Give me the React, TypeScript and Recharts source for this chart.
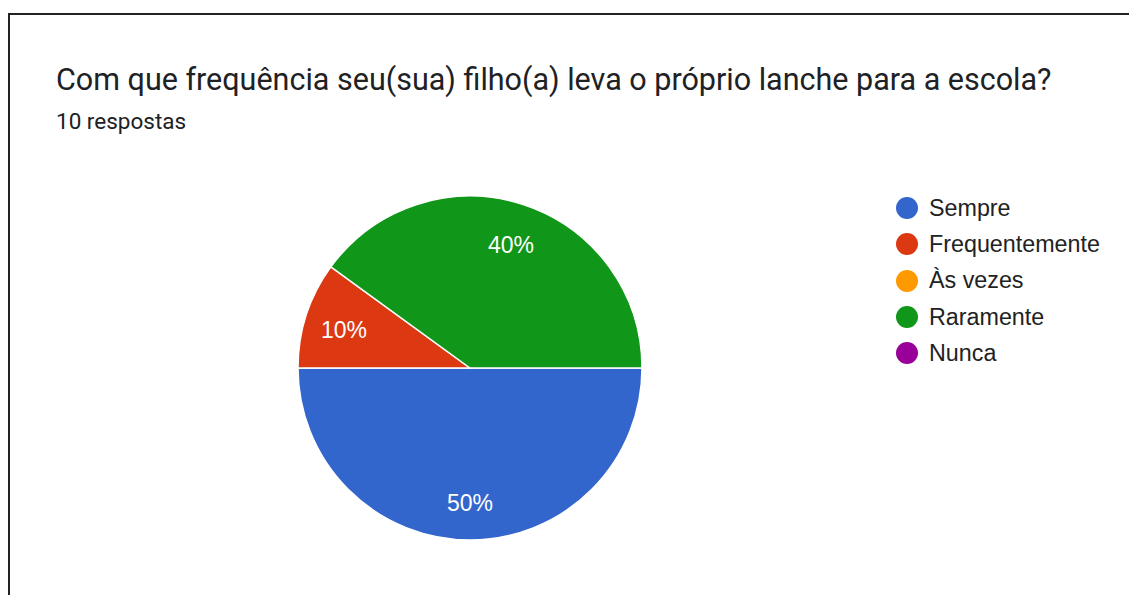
import React from 'react';
import { Pie, PieChart, Cell } from 'recharts';

const categories = ['Sempre', 'Frequentemente', 'Às vezes', 'Raramente', 'Nunca'];
const counts = [5, 1, 0, 4, 0];
const colors = ['#3366cc', '#dc3912', '#ff9900', '#109618', '#990099'];

const title = 'Com que frequência seu(sua) filho(a) leva o próprio lanche para a escola?';
const subtitle = '10 respostas';

const total = counts.reduce((a, b) => a + b, 0);
const allRows = categories.map((name, i) => ({ name, value: counts[i], color: colors[i] }));
const pieRows = allRows.filter((r) => r.value > 0);

const RAD = Math.PI / 180;

const renderLabel = (props: any) => {
  const { cx, cy, midAngle, outerRadius, value } = props;
  const r = outerRadius * 0.77;
  const x = cx + r * Math.cos(-midAngle * RAD);
  const y = cy + r * Math.sin(-midAngle * RAD) + 3;
  return (
    <text
      x={x}
      y={y}
      fill="#ffffff"
      textAnchor="middle"
      dominantBaseline="central"
      fontFamily="'Liberation Sans', Arial, sans-serif"
      fontSize={23}
    >
      {Math.round((value / total) * 100)}%
    </text>
  );
};

const App: React.FC = () => {
  return (
    <div
      style={{
        position: 'absolute',
        left: 0,
        top: 0,
        width: 1129,
        height: 595,
        overflow: 'hidden',
        background: '#ffffff',
      }}
    >
      {/* card border (only top and left visible) */}
      <div
        style={{
          position: 'absolute',
          left: 8,
          top: 13,
          width: 1200,
          height: 700,
          borderTop: '2px solid #222',
          borderLeft: '2px solid #222',
        }}
      />
      <div
        style={{
          position: 'absolute',
          left: 56,
          top: 62,
          fontFamily: 'Roboto, sans-serif',
          fontSize: 30.5,
          color: '#202124',
          whiteSpace: 'nowrap',
        }}
      >
        {title}
      </div>
      <div
        style={{
          position: 'absolute',
          left: 56,
          top: 108,
          fontFamily: 'Roboto, sans-serif',
          fontSize: 22.5,
          color: '#202124',
          whiteSpace: 'nowrap',
        }}
      >
        {subtitle}
      </div>
      <div style={{ position: 'absolute', left: 0, top: 0 }}>
        <PieChart width={1129} height={595} margin={{ top: 0, right: 0, bottom: 0, left: 0 }}>
          <Pie
            data={pieRows}
            dataKey="value"
            nameKey="name"
            cx={470}
            cy={368}
            outerRadius={172}
            startAngle={0}
            endAngle={-360}
            stroke="#ffffff"
            strokeWidth={1.5}
            label={renderLabel}
            labelLine={false}
            isAnimationActive={false}
          >
            {pieRows.map((r) => (
              <Cell key={r.name} fill={r.color} />
            ))}
          </Pie>
        </PieChart>
      </div>
      {/* legend */}
      <div style={{ position: 'absolute', left: 896, top: 190 }}>
        {allRows.map((r) => (
          <div
            key={r.name}
            style={{ display: 'flex', alignItems: 'center', height: 36.3 }}
          >
            <span
              style={{
                width: 22,
                height: 22,
                borderRadius: '50%',
                background: r.color,
                display: 'inline-block',
                marginRight: 11,
              }}
            />
            <span
              style={{
                fontFamily: "'Liberation Sans', Arial, sans-serif",
                fontSize: 23.3,
                color: '#222222',
                whiteSpace: 'nowrap',
              }}
            >
              {r.name}
            </span>
          </div>
        ))}
      </div>
    </div>
  );
};

export default App;
